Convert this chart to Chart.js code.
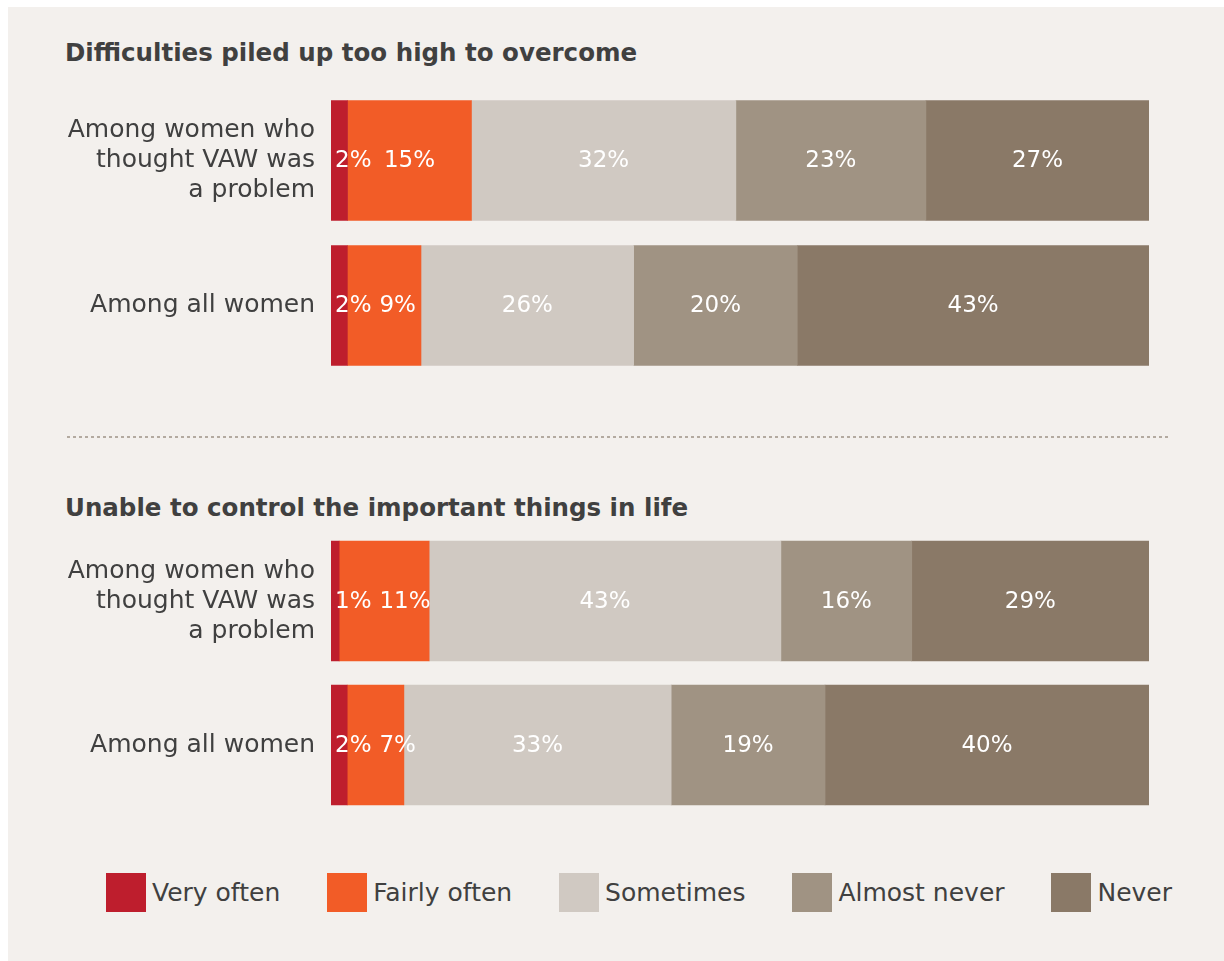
<!DOCTYPE html>
<html>
<head>
<meta charset="utf-8">
<script src="https://cdn.jsdelivr.net/npm/chart.js@4.4.1/dist/chart.umd.min.js"></script>
<style>
  html, body { margin: 0; padding: 0; background: #ffffff; }
  body { width: 1224px; height: 961px; position: relative; overflow: hidden; font-family: "DejaVu Sans", sans-serif; }
  #panel { position: absolute; left: 8px; top: 7px; right: 0; bottom: 0; background: #f3f0ed; }
  .title { position: absolute; left: 65px; font-weight: bold; font-size: 24.5px; line-height: 30px; color: #404040; white-space: nowrap; }
  canvas { position: absolute; left: 0; }
  #sep { position: absolute; left: 67px; width: 1104px; top: 436px; height: 2px;
         background: repeating-linear-gradient(to right, #b3aaa0 0 3px, transparent 3px 6px); }
  #legend { position: absolute; left: 106px; width: 1066px; top: 873px; height: 39px; display: flex; justify-content: space-between; align-items: center; }
  .item { display: flex; align-items: center; }
  .box { width: 40px; height: 39px; margin-right: 6px; }
  .lab { font-size: 25px; color: #404040; white-space: nowrap; }
</style>
</head>
<body>
<div id="panel"></div>
<div class="title" id="t1" style="top:38px"></div>
<div class="title" id="t2" style="top:493px"></div>
<div id="sep"></div>
<canvas id="c1" width="1224" height="290" style="top:88px"></canvas>
<canvas id="c2" width="1224" height="288" style="top:529px"></canvas>
<div id="legend"></div>
<script>
// ---- data ----
const panelTitles = ["Difficulties piled up too high to overcome", "Unable to control the important things in life"];
const categories = [["Among women who", "thought VAW was", "a problem"], "Among all women"];
const seriesNames = ["Very often", "Fairly often", "Sometimes", "Almost never", "Never"];
const seriesColors = ["#be1e2d", "#f25c27", "#d0c9c2", "#a09383", "#8a7967"];

// Difficulties piled up too high to overcome
const diffVeryOften   = [2, 2];
const diffFairlyOften = [15, 9];
const diffSometimes   = [32, 26];
const diffAlmostNever = [23, 20];
const diffNever       = [27, 43];

// Unable to control the important things in life
const ctrlVeryOften   = [1, 2];
const ctrlFairlyOften = [11, 7];
const ctrlSometimes   = [43, 33];
const ctrlAlmostNever = [16, 19];
const ctrlNever       = [29, 40];

// ---- text ----
document.getElementById('t1').textContent = panelTitles[0];
document.getElementById('t2').textContent = panelTitles[1];
const legend = document.getElementById('legend');
seriesNames.forEach((n, i) => {
  const it = document.createElement('div'); it.className = 'item';
  const b = document.createElement('div'); b.className = 'box'; b.style.background = seriesColors[i];
  const l = document.createElement('span'); l.className = 'lab'; l.textContent = n;
  it.appendChild(b); it.appendChild(l); legend.appendChild(it);
});

const labelFont = '23px "DejaVu Sans", sans-serif';

const segmentLabels = {
  id: 'segmentLabels',
  afterDatasetsDraw(chart) {
    const ctx = chart.ctx;
    ctx.save();
    ctx.font = labelFont;
    ctx.fillStyle = '#ffffff';
    ctx.textBaseline = 'middle';
    ctx.textAlign = 'left';
    const nRows = chart.data.labels.length;
    for (let r = 0; r < nRows; r++) {
      let prevEnd = -Infinity;
      chart.data.datasets.forEach((ds, di) => {
        const el = chart.getDatasetMeta(di).data[r];
        const txt = ds.raw[r] + '%';
        const w = ctx.measureText(txt).width;
        const left = Math.min(el.x, el.base), right = Math.max(el.x, el.base);
        if (di === 0) prevEnd = left - 4;
        const c = (left + right) / 2;
        const start = Math.max(c - w / 2, prevEnd + 8);
        ctx.fillText(txt, start, el.y + 1);
        prevEnd = start + w;
      });
    }
    ctx.restore();
  }
};

function makeChart(id, seriesData) {
  const sums = categories.map((_, r) => seriesData.reduce((s, arr) => s + arr[r], 0));
  const datasets = seriesData.map((arr, i) => ({
    label: seriesNames[i],
    raw: arr,
    data: arr.map((v, r) => v / sums[r] * 100),
    backgroundColor: seriesColors[i],
    borderWidth: 0,
    barThickness: 120
  }));
  return new Chart(document.getElementById(id), {
    type: 'bar',
    data: { labels: categories, datasets },
    options: {
      indexAxis: 'y',
      responsive: false,
      animation: false,
      devicePixelRatio: 1,
      layout: { padding: { left: 0, right: 75, top: 0, bottom: 0 } },
      plugins: { legend: { display: false }, tooltip: { enabled: false }, title: { display: false } },
      scales: {
        x: { stacked: true, min: 0, max: 100, display: false },
        y: {
          stacked: true,
          grid: { display: false, drawTicks: false },
          border: { display: false },
          ticks: { padding: 16, color: '#404040', font: { family: '"DejaVu Sans", sans-serif', size: 25, lineHeight: 1.2 } },
          afterFit(scale) { scale.width = 331; scale.paddingTop = 0; scale.paddingBottom = 0; }
        }
      }
    },
    plugins: [segmentLabels]
  });
}

makeChart('c1', [diffVeryOften, diffFairlyOften, diffSometimes, diffAlmostNever, diffNever]);
makeChart('c2', [ctrlVeryOften, ctrlFairlyOften, ctrlSometimes, ctrlAlmostNever, ctrlNever]);
</script>
</body>
</html>
